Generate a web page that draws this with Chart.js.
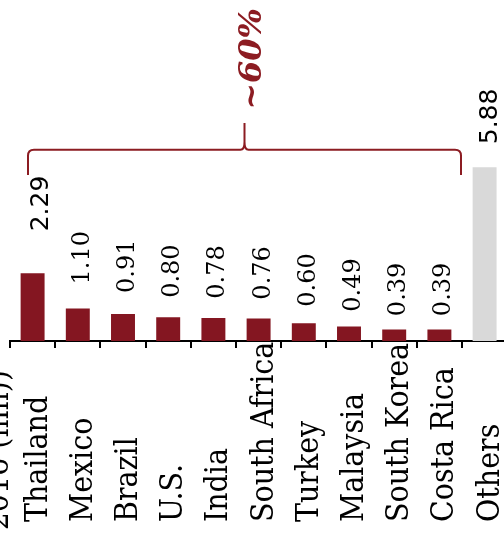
<!DOCTYPE html>
<html><head><meta charset="utf-8">
<script src="https://cdn.jsdelivr.net/npm/chart.js@4"></script>
<style>html,body{margin:0;padding:0;overflow:hidden;background:#fff;width:504px;height:536px}canvas{display:block}</style>
</head><body><canvas id="c" width="520" height="536"></canvas>
<script>
const categories = ['Thailand','Mexico','Brazil','U.S.','India','South Africa','Turkey','Malaysia','South Korea','Costa Rica','Others'];
const values = [2.29,1.10,0.91,0.80,0.78,0.76,0.60,0.49,0.39,0.39,5.88];
const valueLabels = ['2.29','1.10','0.91','0.80','0.78','0.76','0.60','0.49','0.39','0.39','5.88'];
const bracketLabel = '~60%';
const axisTitle = '(Production 2016 (mn))';
const groupFirst = 0, groupLast = 9;

const RED = '#841621', GREY = '#d9d9d9', BRACE = '#8c1c22';

const overlay = {
  id: 'overlay',
  afterDraw(chart) {
    const ctx = chart.ctx, xs = chart.scales.x, ys = chart.scales.y;
    ctx.save();
    ctx.fillStyle = '#000';
    // value labels
    values.forEach((v, i) => {
      const cx = xs.getPixelForValue(i);
      const top = ys.getPixelForValue(v);
      const sans = (i === 0 || i === values.length - 1);
      ctx.font = sans ? '25px "DejaVu Sans"' : '24px "DejaVu Serif"';
      let gap, dx;
      if (i === 0) { gap = 42; dx = 15.5; }
      else if (sans) { gap = 23; dx = 12; }
      else { gap = 7.5 + 15 * v; dx = 11; }
      ctx.setTransform(1, 0, 0, 1, cx + dx, top - gap);
      ctx.rotate(-Math.PI / 2);
      ctx.textAlign = 'left'; ctx.textBaseline = 'alphabetic';
      ctx.fillText(valueLabels[i], 0, 0);
    });
    // category labels
    const base = chart.chartArea.bottom;
    categories.forEach((c, i) => {
      const cx = xs.getPixelForValue(i);
      ctx.font = '28.5px "DejaVu Serif"';
      ctx.setTransform(1, 0, 0, 1, cx + 14, base + 181);
      ctx.rotate(-Math.PI / 2);
      ctx.scale(1, 1.1);
      ctx.textAlign = 'left'; ctx.textBaseline = 'alphabetic';
      ctx.fillText(c, 0, 0);
    });
    // axis title (cut at left edge)
    ctx.font = '28.5px "DejaVu Serif"';
    ctx.setTransform(1, 0, 0, 1, xs.left - 2, base + 29);
    ctx.rotate(-Math.PI / 2);
    ctx.scale(1, 1.1);
    ctx.textAlign = 'right'; ctx.textBaseline = 'alphabetic';
    ctx.fillText(axisTitle, 0, 0);
    ctx.setTransform(1, 0, 0, 1, 0, 0);
    // bracket
    const xl = xs.getPixelForValue(groupFirst) - 4.6;
    const xr = xs.getPixelForValue(groupLast) + 21.6;
    const xc = (xl + xr) / 2;
    const yb = ys.getPixelForValue(5.62), ym = ys.getPixelForValue(6.47), yp = ys.getPixelForValue(7.38);
    const r = 6;
    ctx.strokeStyle = BRACE; ctx.lineWidth = 2; ctx.lineJoin = 'round';
    ctx.beginPath();
    ctx.moveTo(xl, yb);
    ctx.lineTo(xl, ym + r);
    ctx.quadraticCurveTo(xl, ym, xl + r, ym);
    ctx.lineTo(xc - 4, ym);
    ctx.quadraticCurveTo(xc, ym, xc, ym - 8);
    ctx.lineTo(xc, yp);
    ctx.moveTo(xc, ym - 8);
    ctx.quadraticCurveTo(xc, ym, xc + 4, ym);
    ctx.lineTo(xr - r, ym);
    ctx.quadraticCurveTo(xr, ym, xr, ym + r);
    ctx.lineTo(xr, yb);
    ctx.stroke();
    // bracket label
    ctx.fillStyle = BRACE;
    ctx.font = 'italic bold 32px "DejaVu Serif"';
    ctx.setTransform(1, 0, 0, 1, xc + 8, yp - 64);
    ctx.rotate(-Math.PI / 2);
    ctx.textAlign = 'center'; ctx.textBaseline = 'middle';
    ctx.fillText(bracketLabel, 0, 0);
    ctx.restore();
  }
};

new Chart(document.getElementById('c'), {
  type: 'bar',
  data: {
    labels: categories,
    datasets: [{
      data: values,
      backgroundColor: ctx => ctx.dataIndex === categories.length - 1 ? GREY : RED,
      borderWidth: 0,
      categoryPercentage: 1,
      barPercentage: 0.53
    }]
  },
  options: {
    responsive: false,
    animation: false,
    devicePixelRatio: 1,
    layout: { padding: { left: 10, right: 12.8, top: 0, bottom: 0 } },
    plugins: { legend: { display: false }, tooltip: { enabled: false } },
    scales: {
      x: {
        offset: true,
        grid: { display: true, drawOnChartArea: false, drawTicks: true, tickLength: 7, color: '#000', lineWidth: 2, offset: true },
        border: { display: true, color: '#000', width: 2 },
        ticks: { display: false },
        afterFit(scale) { scale.height = 195; }
      },
      y: { display: false, min: 0, max: 11.54 }
    }
  },
  plugins: [overlay]
});
</script>
</body></html>
